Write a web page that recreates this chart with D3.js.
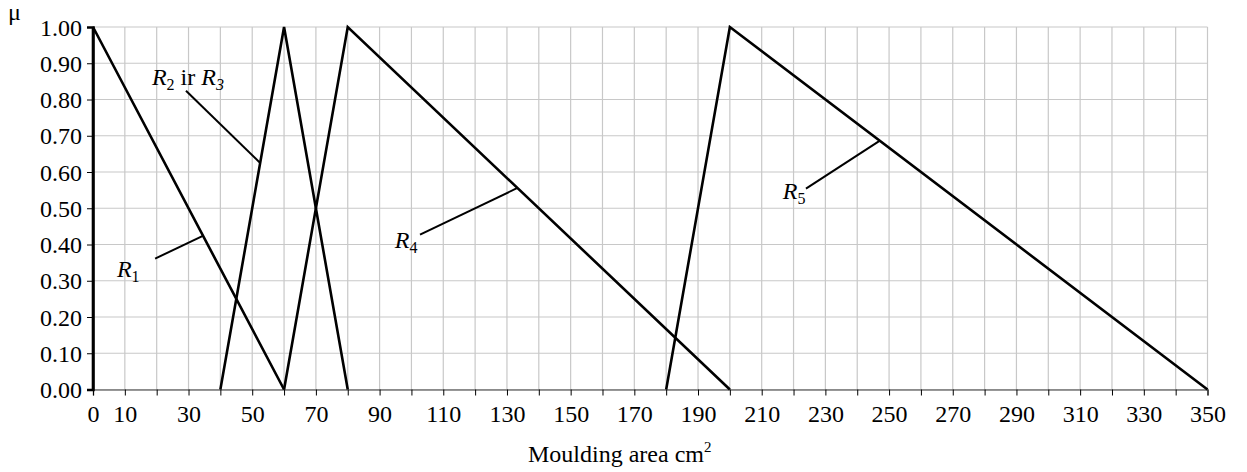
<!DOCTYPE html>
<html>
<head>
<meta charset="utf-8">
<script src="https://cdn.jsdelivr.net/npm/d3@7"></script>
<style>
  html, body { margin: 0; padding: 0; background: #fff; }
  svg { display: block; }
  text { font-family: "Liberation Serif", "Times New Roman", serif; fill: #000; }
</style>
</head>
<body>
<svg id="chart" width="1247" height="472"></svg>
<script>
// ---- data ----
const xTickLabels = [0, 10, 30, 50, 70, 90, 110, 130, 150, 170, 190, 210, 230, 250, 270, 290, 310, 330, 350];
const yTickLabels = ["0.00", "0.10", "0.20", "0.30", "0.40", "0.50", "0.60", "0.70", "0.80", "0.90", "1.00"];
const yTickValues = [0, 0.1, 0.2, 0.3, 0.4, 0.5, 0.6, 0.7, 0.8, 0.9, 1.0];

const r1X = [0, 0, 60],      r1Mu = [0, 1, 0];
const r23X = [40, 60, 80],   r23Mu = [0, 1, 0];
const r4X = [60, 80, 200],   r4Mu = [0, 1, 0];
const r5X = [180, 200, 350], r5Mu = [0, 1, 0];

// annotation: label anchor (x, mu), leader start (x, mu), leader end (x, mu)
const annLabels = ["R1", "R2 ir R3", "R4", "R5"];
const annTextX  = [7.5, 18.5, 94.8, 216.6];
const annTextMu = [0.311, 0.84, 0.391, 0.526];
const annFromX  = [19.5, 29.2, 102.7, 223.9];
const annFromMu = [0.361, 0.824, 0.427, 0.554];
const annToX    = [34.5, 52.5, 133.3, 247];
const annToMu   = [0.424, 0.625, 0.556, 0.686];

const xTitle = "Moulding area cm";
const yTitle = "μ";

// ---- chart ----
const FS = 24;
const svg = d3.select("#chart");
const x = d3.scaleLinear().domain([0, 350]).range([93, 1207.5]);
const y = d3.scaleLinear().domain([0, 1]).range([389.5, 27]);

const gridX = d3.range(0, 351, 10);
const gridY = d3.range(0, 11).map(i => i / 10);

// grid
svg.append("g").selectAll("line").data(gridX).join("line")
  .attr("x1", d => x(d)).attr("x2", d => x(d))
  .attr("y1", y(0)).attr("y2", y(1))
  .attr("stroke", "#c8c8c8").attr("stroke-width", 1.2);
svg.append("g").selectAll("line").data(gridY).join("line")
  .attr("x1", x(0)).attr("x2", x(350))
  .attr("y1", d => y(d)).attr("y2", d => y(d))
  .attr("stroke", "#c8c8c8").attr("stroke-width", 1.2);

// x axis
const xAxis = d3.axisBottom(x).tickValues(gridX).tickSize(6)
  .tickFormat(d => xTickLabels.includes(d) ? d : "");
const gx = svg.append("g").attr("transform", `translate(0,${y(0)})`).call(xAxis);
gx.attr("font-family", null).attr("font-size", null);
gx.select(".domain").attr("stroke", "#777").attr("stroke-width", 1.5);
gx.selectAll(".tick line").attr("stroke", "#000").attr("stroke-width", 1);
gx.selectAll(".tick text").style("font-size", FS + "px").attr("dy", 0).attr("y", 32);

// y axis
const yAxis = d3.axisLeft(y).tickValues(yTickValues).tickSize(6)
  .tickFormat((d, i) => yTickLabels[i]);
const gy = svg.append("g").attr("transform", `translate(${x(0)},0)`).call(yAxis);
gy.attr("font-family", null).attr("font-size", null);
gy.select(".domain").attr("stroke", "#000").attr("stroke-width", 2.5);
gy.selectAll(".tick line").attr("stroke", "#000").attr("stroke-width", 1);
gy.selectAll(".tick text").style("font-size", FS + "px").attr("x", -11).attr("dy", "0.34em");

// series
const line = d3.line().x(d => x(d[0])).y(d => y(d[1]));
const series = [
  d3.zip(r1X, r1Mu), d3.zip(r23X, r23Mu), d3.zip(r4X, r4Mu), d3.zip(r5X, r5Mu)
];
svg.append("g").selectAll("path").data(series).join("path")
  .attr("d", line).attr("fill", "none").attr("stroke", "#000")
  .attr("stroke-width", 2.6).attr("stroke-linejoin", "miter");

// leaders
svg.append("g").selectAll("line").data(annLabels).join("line")
  .attr("x1", (d, i) => x(annFromX[i])).attr("y1", (d, i) => y(annFromMu[i]))
  .attr("x2", (d, i) => x(annToX[i])).attr("y2", (d, i) => y(annToMu[i]))
  .attr("stroke", "#000").attr("stroke-width", 2);

// labels
function addR(t, num, italicSub) {
  t.append("tspan").attr("font-style", "italic").text("R");
  t.append("tspan").style("font-size", "16px").attr("dy", 5)
    .attr("font-style", italicSub ? "italic" : "normal").text(num);
}
annLabels.forEach((lab, i) => {
  const t = svg.append("text").attr("x", x(annTextX[i])).attr("y", y(annTextMu[i]))
    .style("font-size", FS + "px");
  if (lab === "R2 ir R3") {
    addR(t, "2", false);
    t.append("tspan").attr("dy", -5).text(" ir ");
    addR(t, "3", true);
  } else {
    addR(t, lab.slice(1), false);
  }
});

// titles
const xt = svg.append("text").attr("x", 528).attr("y", 462).style("font-size", FS + "px");
xt.append("tspan").text(xTitle);
xt.append("tspan").style("font-size", "15px").attr("dy", -10).text("2");
svg.append("text").attr("x", 8).attr("y", 20).style("font-size", FS + "px").text(yTitle);
</script>
</body>
</html>
